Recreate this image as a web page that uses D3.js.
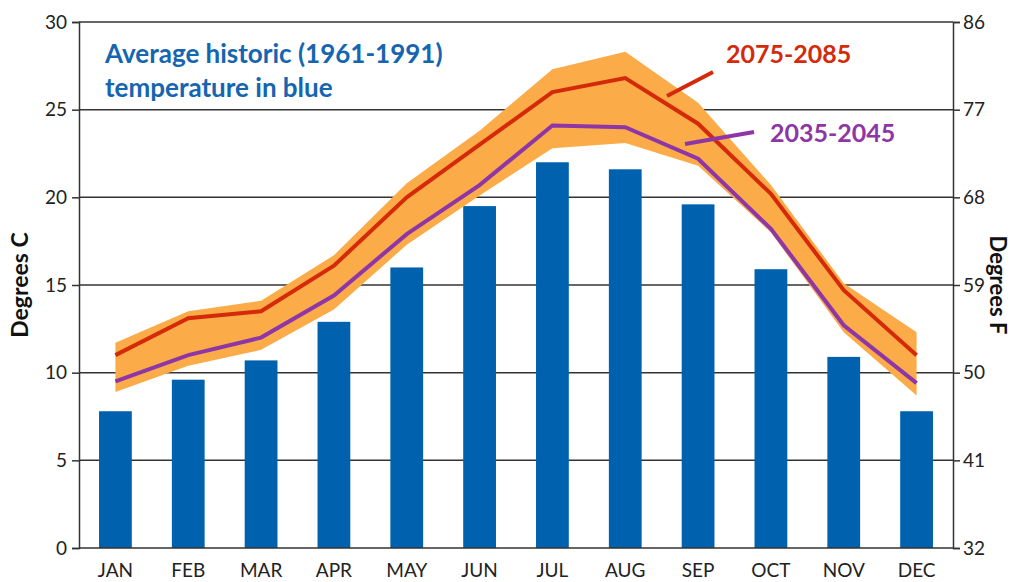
<!DOCTYPE html>
<html>
<head>
<meta charset="utf-8">
<script src="https://cdn.jsdelivr.net/npm/d3@7"></script>
<style>
  body { margin: 0; background: #fff; }
  svg text { font-family: Lato, "Noto Sans", sans-serif; }
</style>
</head>
<body>
<div id="chart"></div>
<script>
var months = ["JAN", "FEB", "MAR", "APR", "MAY", "JUN", "JUL", "AUG", "SEP", "OCT", "NOV", "DEC"];
// historic 1961-1991 averages, degrees C
var historic = [7.8, 9.6, 10.7, 12.9, 16.0, 19.5, 22.0, 21.6, 19.6, 15.9, 10.9, 7.8];
// projections
var late = [11.0, 13.1, 13.5, 16.1, 20.0, 23.0, 26.0, 26.8, 24.2, 20.2, 14.7, 11.0];   // 2075-2085
var mid = [9.5, 11.0, 12.0, 14.4, 17.9, 20.7, 24.1, 24.0, 22.2, 18.2, 12.7, 9.4];       // 2035-2045
// orange uncertainty band
var bandHigh = [11.7, 13.5, 14.1, 16.7, 20.8, 23.8, 27.3, 28.3, 25.4, 20.7, 15.1, 12.3];
var bandLow = [8.9, 10.4, 11.3, 13.6, 17.3, 20.1, 22.8, 23.1, 21.8, 18.0, 12.3, 8.7];
var ticksC = [0, 5, 10, 15, 20, 25, 30];
var ticksF = [32, 41, 50, 59, 68, 77, 86];

var width = 1014, height = 582;
var mLeft = 79, mRight = 953, mTop = 22, mBottom = 548;

var svg = d3.select("#chart").append("svg").attr("width", width).attr("height", height);

var x = d3.scaleBand().domain(months).range([mLeft, mRight]).paddingInner(0.55).paddingOuter(0.275);
var y = d3.scaleLinear().domain([0, 30]).range([mBottom, mTop]);
var yF = d3.scaleLinear().domain([32, 86]).range([mBottom, mTop]);

// gridlines
svg.append("g").selectAll("line")
    .data(ticksC.slice(1))
    .enter().append("line")
    .attr("x1", mLeft).attr("x2", mRight)
    .attr("y1", function (d) { return y(d); })
    .attr("y2", function (d) { return y(d); })
    .attr("stroke", "#333").attr("stroke-width", 1.5);

// bars
svg.append("g").selectAll("rect")
    .data(historic)
    .enter().append("rect")
    .attr("x", function (d, i) { return x(months[i]); })
    .attr("width", x.bandwidth())
    .attr("y", function (d) { return y(d); })
    .attr("height", function (d) { return y(0) - y(d); })
    .attr("fill", "#0061ae");

var cx = function (d, i) { return x(months[i]) + x.bandwidth() / 2; };

// band
var area = d3.area()
    .x(cx)
    .y0(function (d, i) { return y(bandLow[i]); })
    .y1(function (d) { return y(d); });
svg.append("path").datum(bandHigh).attr("d", area).attr("fill", "#fbab47");

var line = d3.line().x(cx).y(function (d) { return y(d); });
svg.append("path").datum(late).attr("d", line)
    .attr("fill", "none").attr("stroke", "#d42a0a").attr("stroke-width", 4);
svg.append("path").datum(mid).attr("d", line)
    .attr("fill", "none").attr("stroke", "#8e36a8").attr("stroke-width", 4);

// axes
var axisL = d3.axisLeft(y).tickValues(ticksC).tickSize(7).tickPadding(5);
var gL = svg.append("g").attr("transform", "translate(" + mLeft + ",0)").call(axisL);
var axisR = d3.axisRight(yF).tickValues(ticksF).tickSize(7).tickPadding(3);
var gR = svg.append("g").attr("transform", "translate(" + mRight + ",0)").call(axisR);
var axisB = d3.axisBottom(x).tickSize(0).tickPadding(16);
var gB = svg.append("g").attr("transform", "translate(0," + mBottom + ")").call(axisB);

[gL, gR, gB].forEach(function (g) {
    g.select(".domain").attr("stroke", "#333").attr("stroke-width", 1.5);
    g.selectAll(".tick line").attr("stroke", "#333").attr("stroke-width", 1.5);
    g.selectAll("text").attr("fill", "#222").style("font-size", "19px");
});
gB.select(".domain").attr("d", "M" + mLeft + ",0H" + mRight);

// axis titles
svg.append("text")
    .attr("transform", "translate(28," + (mTop + mBottom) / 2 + ") rotate(-90)")
    .attr("text-anchor", "middle")
    .style("font-size", "23px").style("font-weight", "bold").attr("fill", "#111")
    .text("Degrees C");
svg.append("text")
    .attr("transform", "translate(990," + (mTop + mBottom) / 2 + ") rotate(90)")
    .attr("text-anchor", "middle")
    .style("font-size", "22px").style("font-weight", "bold").attr("fill", "#111")
    .text("Degrees F");

// annotations
svg.append("text").attr("x", 105).attr("y", 63)
    .style("font-size", "26px").style("font-weight", "bold").attr("fill", "#1565b0")
    .text("Average historic (1961-1991)");
svg.append("text").attr("x", 105).attr("y", 97)
    .style("font-size", "26px").style("font-weight", "bold").attr("fill", "#1565b0")
    .text("temperature in blue");

svg.append("line").attr("x1", 667).attr("y1", 96).attr("x2", 713).attr("y2", 72)
    .attr("stroke", "#d42a0a").attr("stroke-width", 4);
svg.append("text").attr("x", 726).attr("y", 63)
    .style("font-size", "25px").style("font-weight", "bold").attr("fill", "#d42a0a")
    .text("2075-2085");
svg.append("line").attr("x1", 685).attr("y1", 144).attr("x2", 754).attr("y2", 132)
    .attr("stroke", "#8e36a8").attr("stroke-width", 4);
svg.append("text").attr("x", 770).attr("y", 142)
    .style("font-size", "25px").style("font-weight", "bold").attr("fill", "#8e36a8")
    .text("2035-2045");
</script>
</body>
</html>
